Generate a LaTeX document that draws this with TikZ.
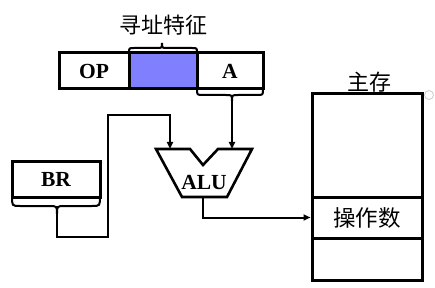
\documentclass[tikz,border=0pt]{standalone}
\usepackage{fontspec}
\setmainfont{Liberation Serif}
\newfontfamily\cjk{Noto Sans CJK SC}
\usetikzlibrary{arrows.meta}
\begin{document}
\begin{tikzpicture}[x=1pt,y=-1pt,
  cell/.style={draw, line width=3pt, inner sep=0pt, minimum height=36pt, font=\fontsize{21.5}{21.5}\selectfont\bfseries},
  memcell/.style={draw, line width=3pt, inner sep=0pt, minimum width=110pt, font=\cjk\fontsize{22.5}{22.5}\selectfont},
  wire/.style={line width=2pt, line join=miter},
  arr/.style={wire, -{Triangle[length=7pt,width=6pt]}},
  brace/.style={line width=2pt},
  lbl/.style={font=\cjk\fontsize{22}{22}\selectfont, inner sep=0pt}]
\useasboundingbox (0,0) rectangle (435,288);
% instruction
\node[cell, minimum width=70pt] (op) at (94,71) {OP};
\node[cell, minimum width=68pt, fill={rgb,255:red,128;green,128;blue,255}] (mode) at (163,71) {};
\node[cell, minimum width=66pt] (a) at (230,71) {A};
\node[lbl] (feat) at (163,25) {寻址特征};
% braces
\draw[brace] (129,53) .. controls (129,48) .. (134,48) -- (157,48) .. controls (162,48) .. (162,43)
             (197,53) .. controls (197,48) .. (192,48) -- (167,48) .. controls (162,48) .. (162,43);
\draw[brace] (197,89) .. controls (197,95) .. (203,95) -- (226,95) .. controls (232,95) .. (232,101)
             (263,89) .. controls (263,95) .. (257,95) -- (238,95) .. controls (232,95) .. (232,101);
\coordinate (atip) at (232,101);
% BR
\node[cell, minimum width=88pt, minimum height=35pt] (br) at (56,179.5) {BR};
\draw[brace] (12,196) .. controls (12,206) .. (20,206) -- (49,206) .. controls (57,206) .. (57,214)
             (100,196) .. controls (100,206) .. (92,206) -- (65,206) .. controls (57,206) .. (57,214);
\coordinate (brtip) at (57,214);
% ALU
\draw[line width=2.6pt, line join=miter] (156,149) -- (190,149) -- (203,165) -- (218,149) -- (252,149) -- (227,197) -- (182,197) -- cycle;
\node[font=\fontsize{21.5}{21.5}\selectfont\bfseries, inner sep=0pt] (alu) at (204,183) {ALU};
\coordinate (aluL) at (170,149);
\coordinate (aluR) at (232,149);
\coordinate (aluB) at (203,197);
% memory
\node[memcell, minimum height=103pt] (mtop) at (367,145.5) {};
\node[memcell, minimum height=41pt] (mop) at (367,217.5) {操作数};
\node[memcell, minimum height=42pt] (mbot) at (367,259) {};
\node[lbl] (mem) at (369,82) {主存};
\draw[gray!40, line width=0.8pt] (429,95) circle (4.5pt);
% wires
\draw[arr] (brtip) |- (108,237) |- (170,115) -- (aluL);
\draw[arr] (atip) -- (aluR);
\draw[arr] (aluB) |- (mop.west);
\end{tikzpicture}
\end{document}
